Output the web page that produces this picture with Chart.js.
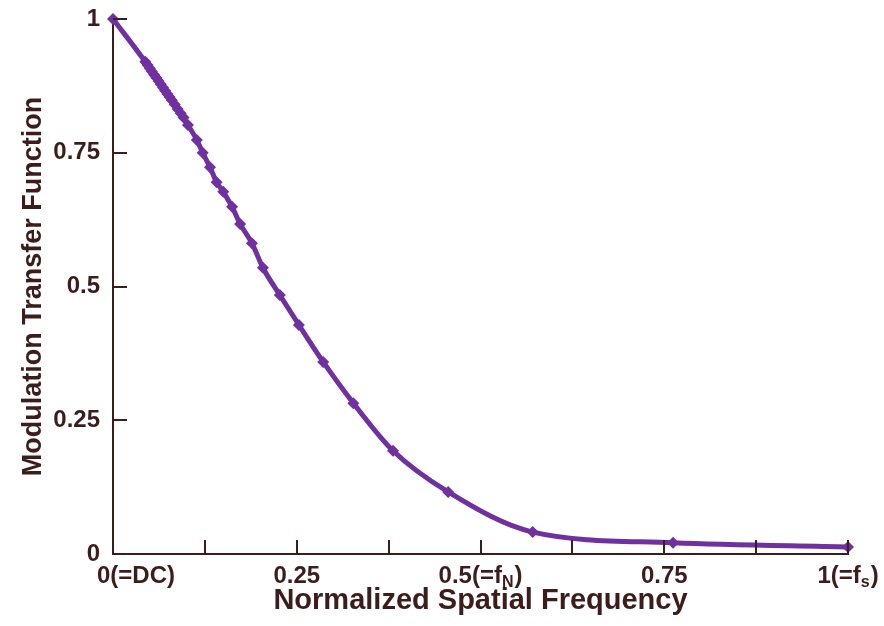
<!DOCTYPE html>
<html>
<head>
<meta charset="utf-8">
<script src="https://cdn.jsdelivr.net/npm/chart.js@4.4.1/dist/chart.umd.min.js"></script>
<style>
  html, body { margin: 0; padding: 0; background: #ffffff; }
  #wrap { width: 884px; height: 626px; }
</style>
</head>
<body>
<div id="wrap"><canvas id="mtfChart" width="884" height="626"></canvas></div>
<script>
// values
const freq = [0, 0.044, 0.047, 0.050, 0.053, 0.056, 0.059, 0.062, 0.065, 0.068, 0.071, 0.074, 0.077, 0.080,
  0.084, 0.088, 0.092, 0.096,
  0.102, 0.114, 0.122, 0.132, 0.141, 0.150, 0.162, 0.173, 0.189, 0.204, 0.227, 0.253, 0.286, 0.327,
  0.381, 0.456, 0.571, 0.762, 1.0];
const mtf = [1.0, 0.920, 0.914, 0.908, 0.902, 0.896, 0.890, 0.884, 0.878, 0.872, 0.866, 0.860, 0.854, 0.848,
  0.840, 0.832, 0.824, 0.816,
  0.802, 0.774, 0.750, 0.723, 0.695, 0.677, 0.649, 0.617, 0.581, 0.535, 0.484, 0.428, 0.359, 0.282,
  0.193, 0.116, 0.041, 0.021, 0.013];

const xTickValues = [0, 0.25, 0.5, 0.75, 1];
const xTickLabels = ['0(=DC)', '0.25', '0.5(=f_N)', '0.75', '1(=f_s)'];
const yTickLabels = ['0', '0.25', '0.5', '0.75', '1'];

const xTitle = 'Normalized Spatial Frequency';
const yTitle = 'Modulation Transfer Function';

const AXIS_COLOR = '#3d1c1c';
const LINE_COLOR = '#7030a0';
const FONT = "'Liberation Sans', Arial, sans-serif";

const points = freq.map((f, i) => ({ x: f, y: mtf[i] }));

// inward tick marks and x labels with subscripts
const axisDecor = {
  id: 'axisDecor',
  afterDraw(chart) {
    const ctx = chart.ctx;
    const xs = chart.scales.x;
    const ys = chart.scales.y;
    const area = chart.chartArea;

    ctx.save();
    ctx.strokeStyle = AXIS_COLOR;
    ctx.lineWidth = 2;
    ctx.beginPath();
    for (const t of xs.ticks) {
      if (t.value <= 0) continue;
      const px = Math.round(xs.getPixelForValue(t.value));
      ctx.moveTo(px, area.bottom);
      ctx.lineTo(px, area.bottom - 14);
    }
    for (const t of ys.ticks) {
      if (t.value <= 0) continue;
      const py = Math.round(ys.getPixelForValue(t.value));
      ctx.moveTo(area.left, py);
      ctx.lineTo(area.left + 14, py);
    }
    ctx.stroke();

    const mainFont = 'bold 24px ' + FONT;
    const subFont = 'bold 16px ' + FONT;
    ctx.fillStyle = AXIS_COLOR;
    ctx.textBaseline = 'middle';
    ctx.textAlign = 'left';
    const y = area.bottom + 22;

    xTickValues.forEach((v, i) => {
      const parts = xTickLabels[i].split('_');
      const head = parts[0];
      const sub = parts.length > 1 ? parts[1].charAt(0) : '';
      const tail = parts.length > 1 ? parts[1].slice(1) : '';
      ctx.font = mainFont;
      const wHead = ctx.measureText(head).width;
      const wTail = ctx.measureText(tail).width;
      ctx.font = subFont;
      const wSub = sub ? ctx.measureText(sub).width + 1 : 0;
      const total = wHead + wSub + wTail;
      let x = xs.getPixelForValue(v) - total / 2;
      if (i === 0) x = area.left - 16;

      ctx.font = mainFont;
      ctx.fillText(head, x, y);
      if (sub) {
        ctx.font = subFont;
        ctx.fillText(sub, x + wHead, y + 7);
      }
      ctx.font = mainFont;
      ctx.fillText(tail, x + wHead + wSub, y);
    });
    ctx.restore();
  }
};

new Chart(document.getElementById('mtfChart'), {
  type: 'line',
  data: {
    datasets: [{
      data: points,
      borderColor: LINE_COLOR,
      backgroundColor: LINE_COLOR,
      borderWidth: 5,
      cubicInterpolationMode: 'monotone',
      pointStyle: 'rectRot',
      pointRadius: 6,
      pointBorderWidth: 0,
      pointBackgroundColor: LINE_COLOR,
      clip: false
    }]
  },
  options: {
    responsive: false,
    animation: false,
    devicePixelRatio: 1,
    layout: { padding: { top: 19, right: 36, left: 0, bottom: 0 } },
    plugins: {
      legend: { display: false },
      tooltip: { enabled: false }
    },
    scales: {
      x: {
        type: 'linear',
        min: 0,
        max: 1,
        ticks: { stepSize: 0.125, display: false, autoSkip: false },
        grid: { display: false, drawTicks: false },
        border: { display: true, color: AXIS_COLOR, width: 2 },
        title: {
          display: true,
          text: xTitle,
          color: AXIS_COLOR,
          font: { family: FONT, size: 29, weight: 'bold' },
          padding: { bottom: 8, top: 0 }
        },
        afterFit(scale) {
          scale.height = 72;
          scale.paddingLeft = 0;
          scale.paddingRight = 0;
        }
      },
      y: {
        type: 'linear',
        min: 0,
        max: 1,
        ticks: {
          stepSize: 0.25,
          padding: 13,
          color: AXIS_COLOR,
          font: { family: FONT, size: 24, weight: 'bold' },
          callback: (value, index) => yTickLabels[index]
        },
        grid: { display: false, drawTicks: false },
        border: { display: true, color: AXIS_COLOR, width: 2 },
        title: {
          display: true,
          text: yTitle,
          color: AXIS_COLOR,
          font: { family: FONT, size: 27, weight: 'bold' },
          padding: { top: 17, bottom: 0 }
        },
        afterFit(scale) {
          scale.width = 113;
          scale.paddingTop = 0;
          scale.paddingBottom = 0;
        }
      }
    }
  },
  plugins: [axisDecor]
});
</script>
</body>
</html>
